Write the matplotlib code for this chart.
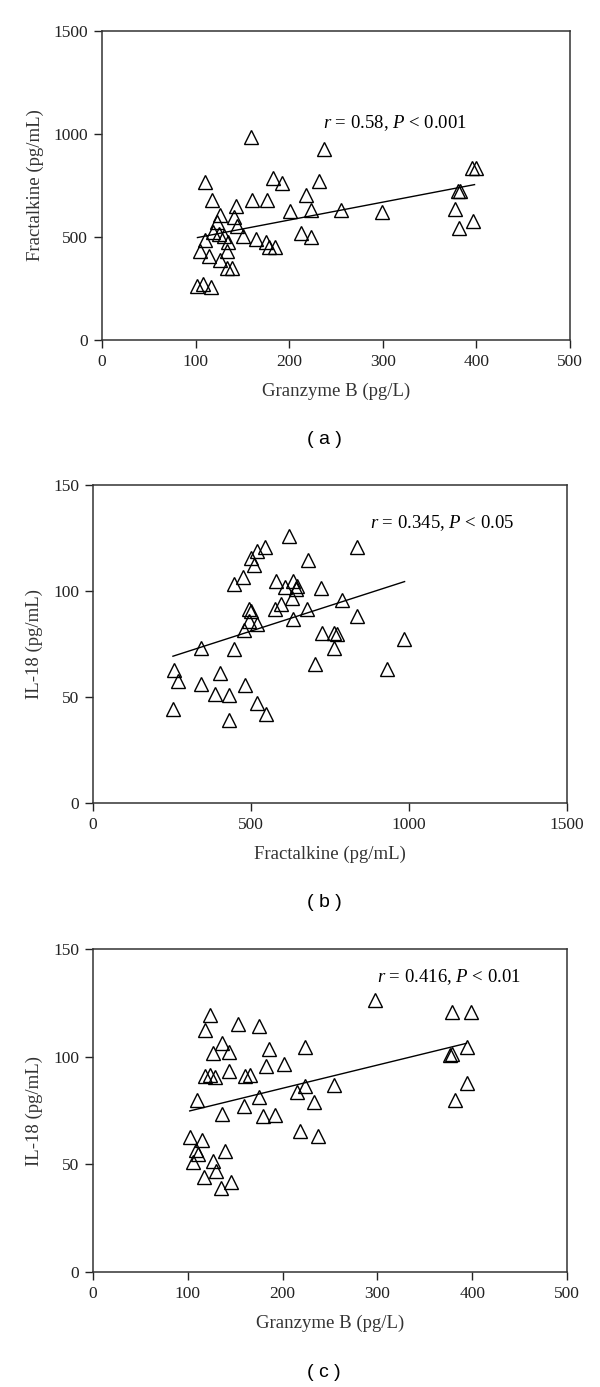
#!/usr/bin/env python3
import matplotlib
matplotlib.use('Agg')
import matplotlib.pyplot as plt

plt.rcParams['font.family'] = ['Liberation Serif', 'DejaVu Serif']
plt.rcParams['mathtext.fontset'] = 'custom'
plt.rcParams['mathtext.rm'] = 'Liberation Serif'
plt.rcParams['mathtext.it'] = 'Liberation Serif:italic'

# panel (a): granzyme B vs fractalkine
gzb_a = [159, 237, 395, 400, 110, 183, 192, 232, 380, 383, 117, 160, 176, 218, 143, 201,
         223, 255, 299, 377, 126, 141, 123, 144, 396, 381, 119, 125, 130, 110, 135, 151,
         165, 175, 178, 185, 213, 223, 105, 134, 114, 126, 134, 139, 101, 108, 116]
frac_a = [985, 928, 833, 833, 766, 787, 764, 772, 722, 722, 677, 680, 680, 706, 648, 628,
          632, 633, 622, 636, 608, 597, 572, 552, 578, 545, 524, 512, 506, 484, 476, 503,
          492, 476, 451, 451, 519, 500, 432, 432, 406, 387, 347, 347, 261, 274, 255]
fit_a_x = [102, 398]
fit_a_y = [497, 754]

# panel (b): fractalkine vs IL-18
frac_b = [619, 545, 519, 836, 501, 508, 680, 475, 445, 579, 609, 632, 646, 641, 722, 630,
          596, 575, 493, 501, 678, 789, 632, 834, 495, 519, 477, 725, 762, 773, 762, 984,
          342, 445, 704, 931, 255, 269, 403, 342, 385, 429, 480, 519, 549, 253, 429]
il18_b = [126.0, 120.5, 119.0, 120.5, 115.3, 112.1, 114.5, 106.6, 103.2, 104.7, 102.0, 104.7,
          102.4, 100.8, 101.6, 96.8, 93.7, 91.6, 91.6, 90.5, 91.3, 95.7, 86.9, 88.2, 85.8,
          84.2, 81.5, 80.3, 80.0, 79.5, 73.2, 77.1, 73.2, 72.4, 65.3, 63.3, 62.9, 57.4, 61.4,
          56.3, 51.4, 51.1, 55.4, 47.2, 42.0, 44.3, 39.0]
fit_b_x = [253, 986]
fit_b_y = [69.2, 104.4]

# panel (c): granzyme B vs IL-18
gzb_c = [297, 379, 399, 123, 118, 153, 175, 136, 127, 143, 186, 224, 395, 377, 379, 183,
         201, 143, 118, 123, 129, 160, 166, 224, 215, 254, 175, 233, 110, 159, 136, 179,
         192, 395, 382, 218, 237, 102, 115, 109, 111, 139, 106, 127, 130, 117, 146, 135]
il18_c = [126.3, 120.9, 120.9, 119.4, 112.4, 115.0, 114.2, 106.5, 101.5, 102.0, 103.4, 104.6,
          104.6, 100.8, 101.2, 95.7, 96.4, 93.3, 91.0, 91.5, 90.7, 91.0, 91.5, 86.4, 83.7,
          86.8, 81.4, 79.1, 79.9, 77.2, 73.2, 72.4, 72.9, 87.6, 79.9, 65.5, 63.3, 62.8, 61.3,
          56.7, 55.0, 56.3, 51.2, 51.5, 47.1, 44.3, 42.0, 38.9]
fit_c_x = [102, 394]
fit_c_y = [74.8, 106.2]

panels = [
    # rect, x, y, fit x, fit y, xlim, ylim, ticks, labels, stat text, text pos, caption y
    ([0.170, 0.7549, 0.780, 0.2228], gzb_a, frac_a, fit_a_x, fit_a_y,
     (0, 500), (0, 1500), range(0, 501, 100), range(0, 1501, 500),
     'Granzyme B (pg/L)', 'Fractalkine (pg/mL)',
     r'$r$ = 0.58, $P$ < 0.001', (236, 1053), '( a )', 0.6828),
    ([0.155, 0.4211, 0.790, 0.2293], frac_b, il18_b, fit_b_x, fit_b_y,
     (0, 1500), (0, 150), range(0, 1501, 500), range(0, 151, 50),
     'Fractalkine (pg/mL)', 'IL-18 (pg/mL)',
     r'$r$ = 0.345, $P$ < 0.05', (875, 132), '( b )', 0.349),
    ([0.155, 0.0829, 0.790, 0.2329], gzb_c, il18_c, fit_c_x, fit_c_y,
     (0, 500), (0, 150), range(0, 501, 100), range(0, 151, 50),
     'Granzyme B (pg/L)', 'IL-18 (pg/mL)',
     r'$r$ = 0.416, $P$ < 0.01', (300, 137), '( c )', 0.0105),
]

fig = plt.figure(figsize=(6.0, 13.87), dpi=100)
for (rect, xs, ys, fx, fy, xlim, ylim, xt, yt, xlab, ylab,
     stat, stat_pos, cap, cap_y) in panels:
    ax = fig.add_axes(rect)
    ax.plot(xs, ys, linestyle='none', marker='^', markersize=9.5,
            markerfacecolor='none', markeredgecolor='black', markeredgewidth=1.0)
    ax.plot(fx, fy, color='black', linewidth=1.0)
    ax.set_xlim(*xlim)
    ax.set_ylim(*ylim)
    ax.set_xticks(list(xt))
    ax.set_yticks(list(yt))
    ax.tick_params(direction='out', length=6, width=1, labelsize=12.5, pad=4,
                   top=False, right=False, colors='#222222')
    for sp in ax.spines.values():
        sp.set_linewidth(1.1)
        sp.set_color('#333333')
    ax.set_xlabel(xlab, fontsize=13.5, color='#333333', labelpad=9)
    ax.set_ylabel(ylab, fontsize=13.5, color='#333333', labelpad=7)
    ax.text(stat_pos[0], stat_pos[1], stat, fontsize=13.5, va='center', ha='left')
    fig.text(0.54, cap_y, cap, fontsize=14, ha='center', va='center',
             family=['Liberation Sans', 'DejaVu Sans'])

fig.savefig('out.png', dpi=100)
